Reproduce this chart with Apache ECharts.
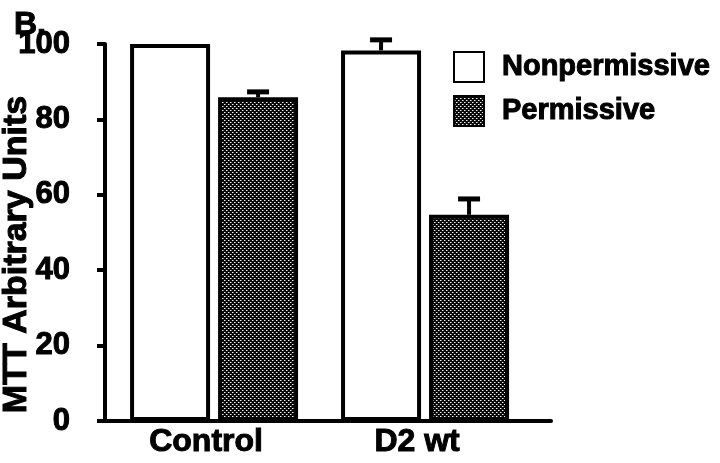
<!DOCTYPE html>
<html>
<head>
<meta charset="utf-8">
<script src="https://cdn.jsdelivr.net/npm/echarts@6/dist/echarts.min.js"></script>
<style>
html,body{margin:0;padding:0;background:#fff;}
#chart{width:720px;height:463px;}
</style>
</head>
<body>
<div id="chart"></div>
<script>
// ---- data ----
var categories = ['Control', 'D2 wt'];
var seriesNames = ['Nonpermissive', 'Permissive'];
var nonpermissive = [100, 98.3];
var nonpermissiveErr = [0, 2.8];
var permissive = [85.9, 54.7];
var permissiveErr = [1.4, 4.2];
var yTicks = [0, 20, 40, 60, 80, 100];

// ---- styles ----
var FONT = '"Liberation Sans", Arial, Helvetica, sans-serif';
var BAR_W = 80;
var BORDER = 4;
var OFFSET = 44; // half distance between the two bar centres in a group
function bold(size) {
  return { fontFamily: FONT, fontWeight: 'bold', fontSize: size, color: '#000',
           textBorderColor: '#000', textBorderWidth: 1 };
}

function makePattern() {
  var c = document.createElement('canvas');
  c.width = 4; c.height = 4;
  var ctx = c.getContext('2d');
  ctx.fillStyle = '#0a0a0a';
  ctx.fillRect(0, 0, 4, 4);
  ctx.fillStyle = '#f4f4f4';
  ctx.fillRect(0, 0, 1, 1);
  ctx.fillRect(2, 2, 1, 1);
  ctx.fillStyle = '#7a7a7a';
  ctx.fillRect(1, 0, 1, 1);
  ctx.fillRect(3, 2, 1, 1);
  return c;
}
var pattern = { image: makePattern(), repeat: 'repeat' };

function pairs(vals) {
  return vals.map(function (v, i) { return [i, v]; });
}
function errPairs(vals, errs) {
  return vals.map(function (v, i) { return [i, v, errs[i]]; });
}
function errRenderer(offset) {
  return function (params, api) {
    var err = api.value(2);
    if (!err) return null;
    var x = api.value(0), v = api.value(1);
    var base = api.coord([x, v]);
    var top = api.coord([x, v + err]);
    var cx = base[0] + offset;
    return {
      type: 'group',
      children: [
        { type: 'line', shape: { x1: cx, y1: base[1], x2: cx, y2: top[1] },
          style: { stroke: '#000', lineWidth: 4 } },
        { type: 'line', shape: { x1: cx - 11, y1: top[1], x2: cx + 11, y2: top[1] },
          style: { stroke: '#000', lineWidth: 5 } }
      ]
    };
  };
}

var chart = echarts.init(document.getElementById('chart'), null, { renderer: 'canvas' });
var legendText = bold(29);
legendText.padding = [0, 0, 0, 13];
var xLab = bold(32);
xLab.margin = 5;
xLab.padding = [0, 16, 0, 0];
xLab.customValues = [0, 1];
xLab.formatter = function (v) { return categories[Math.round(v)]; };
var yLab = bold(31);
yLab.margin = 22;
yLab.formatter = function (v) { return '{n|' + v + '}{s|}'; };
yLab.rich = {
  n: bold(31),
  s: { width: 13, height: 10 }
};
var yName = bold(34);
yName.padding = [0, 44, 0, 0];

chart.setOption({
  animation: false,
  backgroundColor: '#fff',
  textStyle: { fontFamily: FONT },
  title: {
    text: 'B.',
    left: 9, top: 4,
    textStyle: bold(32)
  },
  legend: {
    orient: 'vertical',
    left: 448, top: 46,
    itemWidth: 30, itemHeight: 30,
    itemGap: 12,
    icon: 'rect',
    data: seriesNames,
    textStyle: legendText
  },
  grid: { left: 105, right: 169, top: 44, bottom: 42, containLabel: false, outerBoundsMode: 'none' },
  xAxis: {
    type: 'value',
    min: -0.517, max: 1.597,
    splitLine: { show: false },
    axisLine: { show: true, onZero: false, lineStyle: { color: '#000', width: 4 } },
    axisTick: { show: false },
    axisLabel: xLab
  },
  yAxis: {
    type: 'value',
    min: yTicks[0], max: yTicks[yTicks.length - 1], interval: 20,
    name: 'MTT Arbitrary Units',
    nameLocation: 'middle',
    nameGap: 71,
    nameMoveOverlap: false,
    nameTextStyle: yName,
    splitLine: { show: false },
    axisLine: { show: true, onZero: false, lineStyle: { color: '#000', width: 4 } },
    axisTick: { show: true, length: 8, lineStyle: { color: '#000', width: 4 } },
    axisLabel: yLab
  },
  series: [
    {
      name: seriesNames[0], type: 'bar',
      barWidth: BAR_W, barGap: '10%',
      itemStyle: { color: '#fff', borderColor: '#000', borderWidth: BORDER },
      data: pairs(nonpermissive)
    },
    {
      name: seriesNames[1], type: 'bar',
      barWidth: BAR_W, barGap: '10%',
      itemStyle: { color: pattern, borderColor: '#000', borderWidth: BORDER },
      data: pairs(permissive)
    },
    {
      type: 'custom', name: 'errN', z: 5,
      renderItem: errRenderer(-OFFSET),
      data: errPairs(nonpermissive, nonpermissiveErr)
    },
    {
      type: 'custom', name: 'errP', z: 5,
      renderItem: errRenderer(OFFSET),
      data: errPairs(permissive, permissiveErr)
    }
  ]
});
</script>
</body>
</html>
